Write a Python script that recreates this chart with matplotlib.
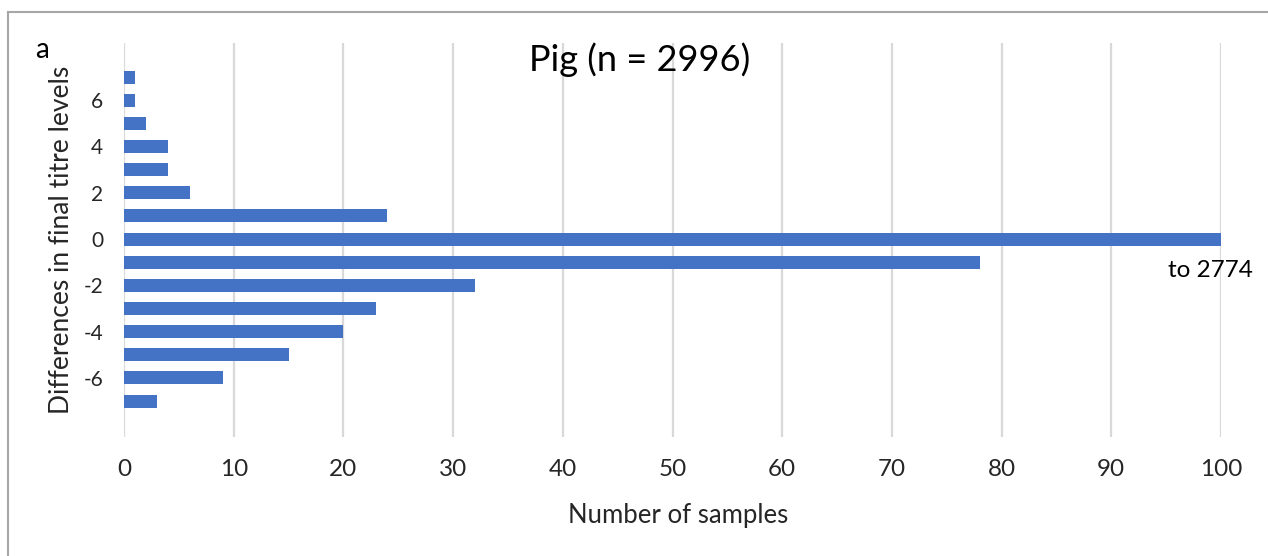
import matplotlib
matplotlib.use("Agg")
import matplotlib.pyplot as plt
from matplotlib.lines import Line2D

# Differences in final titre levels and their sample counts
differences = [7, 6, 5, 4, 3, 2, 1, 0, -1, -2, -3, -4, -5, -6, -7]
counts = [1, 1, 2, 4, 4, 6, 24, 2774, 78, 32, 23, 20, 15, 9, 3]
y_ticks = [6, 4, 2, 0, -2, -4, -6]
x_ticks = [0, 10, 20, 30, 40, 50, 60, 70, 80, 90, 100]
total = sum(counts)

plt.rcParams["font.family"] = ["Lato", "DejaVu Sans"]

fig = plt.figure(figsize=(12.68, 5.56), dpi=100)
ax = fig.add_axes([124 / 1268, 1 - 437 / 556, (1221 - 124) / 1268, (437 - 43) / 556])

bar_color = "#4472C4"
ax.barh(differences, counts, height=0.56, color=bar_color, zorder=3)

ax.set_xlim(0, 100)
ax.set_ylim(-8.55, 8.47)
ax.set_xticks(x_ticks)
ax.set_yticks(y_ticks)
ax.set_yticklabels([str(t) for t in y_ticks])

ax.grid(axis="x", color="#D9D9D9", linewidth=1.6, zorder=0)
ax.grid(axis="y", visible=False)
for s in ax.spines.values():
    s.set_visible(False)

ax.tick_params(axis="x", length=0, pad=16, labelsize=17.5, labelcolor="#262626")
ax.tick_params(axis="y", length=0, pad=15, labelsize=15, labelcolor="#262626")

ax.set_xlabel("Number of samples", fontsize=18.5, color="#262626", va="center")
ax.xaxis.set_label_coords(0.5055, (437 - 516) / 394)
ax.set_ylabel("Differences in final titre levels", fontsize=19, color="#262626", va="center")
ax.yaxis.set_label_coords((62 - 124) / 1097, 0.5)

# Off-scale value for the zero-difference bar
zero_count = counts[differences.index(0)]
ax.text(0.99, -1.35, f"to {zero_count}", transform=ax.get_yaxis_transform(),
        fontsize=17.5, color="black", ha="center", va="center")

fig.text(640 / 1268, 1 - 60 / 556, f"Pig (n = {total})", fontsize=26,
         ha="center", va="center", color="black")
fig.text(35 / 1268, 1 - 50 / 556, "a", fontsize=20, ha="left", va="center", color="black")

# Panel frame (left and top edges)
frame_kw = dict(color="#A6A6A6", linewidth=1.5, transform=fig.transFigure)
fig.add_artist(Line2D([8 / 1268, 8 / 1268], [0, 1 - 12 / 556], **frame_kw))
fig.add_artist(Line2D([8 / 1268, 1], [1 - 12 / 556, 1 - 12 / 556], **frame_kw))

fig.savefig("out.png", dpi=100, facecolor="white")
